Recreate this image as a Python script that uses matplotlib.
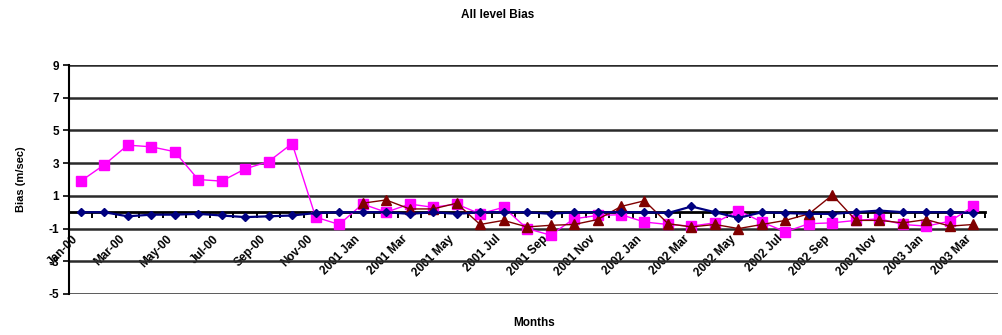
import matplotlib
matplotlib.use("Agg")
import matplotlib.pyplot as plt
from matplotlib.ticker import FixedLocator

# Monthly categories, Jan 2000 .. Mar 2003
months = (
    ["Jan-00", "Feb-00", "Mar-00", "Apr-00", "May-00", "Jun-00",
     "Jul-00", "Aug-00", "Sep-00", "Oct-00", "Nov-00", "Dec-00"]
    + [f"{y} {m}" for y in (2001, 2002)
       for m in ["Jan", "Feb", "Mar", "Apr", "May", "Jun",
                 "Jul", "Aug", "Sep", "Oct", "Nov", "Dec"]]
    + ["2003 Jan", "2003 Feb", "2003 Mar"]
)

# Bias series (m/sec)
bias_blue = [0.0, 0.0, -0.25, -0.15, -0.15, -0.1, -0.2, -0.3, -0.25, -0.2,
             -0.05, 0.0, 0.0, 0.0, -0.1, 0.0, -0.1, 0.0, 0.0, 0.0,
             -0.1, 0.0, 0.0, 0.0, 0.0, -0.05, 0.35, 0.0, -0.35, 0.0,
             -0.05, -0.1, -0.1, 0.0, 0.1, 0.0, 0.0, 0.0, -0.05]
bias_magenta = [1.9, 2.9, 4.1, 4.0, 3.7, 2.0, 1.9, 2.65, 3.1, 4.2,
                -0.3, -0.75, 0.5, 0.0, 0.5, 0.3, 0.5, -0.1, 0.3, -1.0,
                -1.4, -0.4, -0.2, -0.15, -0.6, -0.75, -0.85, -0.65, 0.1, -0.6,
                -1.2, -0.7, -0.65, -0.5, -0.4, -0.75, -0.85, -0.55, 0.35]
bias_red = [None] * 12 + [0.55, 0.75, 0.2, 0.2, 0.55, -0.75, -0.5, -0.9,
                          -0.8, -0.75, -0.45, 0.35, 0.7, -0.7, -0.9, -0.75,
                          -1.0, -0.75, -0.5, -0.1, 1.05, -0.5, -0.5, -0.65,
                          -0.45, -0.85, -0.75]

y_ticks = [9, 7, 5, 3, 1, -1, -3, -5]

plt.rcParams["font.family"] = ["Liberation Sans", "DejaVu Sans"]

fig = plt.figure(figsize=(10.02, 3.35), dpi=100)
ax = fig.add_axes([69 / 1002, 1 - 294 / 335, (998 - 69) / 1002, (294 - 65) / 335])

x = list(range(len(months)))
red_x = [i for i, v in zip(x, bias_red) if v is not None]
red_y = [v for v in bias_red if v is not None]

ax.plot(x, bias_magenta, color="#FF00FF", lw=1.0, marker="s", ms=6.5,
        mec="#FF00FF", zorder=4)
ax.plot(red_x, red_y, color="#800000", lw=1.0, marker="^", ms=7,
        mec="#800000", zorder=5)
ax.plot(x, bias_blue, color="#000080", lw=1.6, marker="D", ms=4.5,
        mec="#000080", zorder=6)

ax.set_ylim(-5, 9)
ax.set_xlim(-0.5, 39.05)
ax.set_yticks(y_ticks)
ax.set_yticklabels([str(v) for v in y_ticks], fontsize=8.5, fontweight="bold")
ax.yaxis.grid(True, color="#2a2a2a", lw=1.8, zorder=1)
ax.tick_params(axis="y", direction="out", length=4, width=1.2, pad=3)

# Category axis crossing at zero
for s in ("top", "right"):
    ax.spines[s].set_visible(False)
ax.spines["left"].set_linewidth(1.5)
ax.spines["bottom"].set_position(("data", 0))
ax.spines["bottom"].set_bounds(-0.5, len(months) - 0.5)
ax.spines["bottom"].set_linewidth(2.0)
ax.spines["bottom"].set_zorder(3)

ax.set_xticks(x[::2])
ax.set_xticklabels(months[::2], rotation=45, ha="right", va="top",
                   fontsize=8.5, fontweight="bold")
ax.xaxis.set_minor_locator(FixedLocator([i - 0.5 for i in range(len(months) + 1)]))
ax.tick_params(axis="x", which="major", length=0, pad=15)
ax.tick_params(axis="x", which="minor", direction="out", length=4, width=1.4)

ax.set_ylabel("Bias (m/sec)", fontsize=8, fontweight="bold", labelpad=16)
fig.text(0.533, 1 - 323 / 335, "Months", ha="center", va="center",
         fontsize=8.5, fontweight="bold")
fig.text(0.497, 1 - 15 / 335, "All level Bias", ha="center", va="center",
         fontsize=8.5, fontweight="bold")

fig.savefig("out.png", dpi=100, facecolor="white")
